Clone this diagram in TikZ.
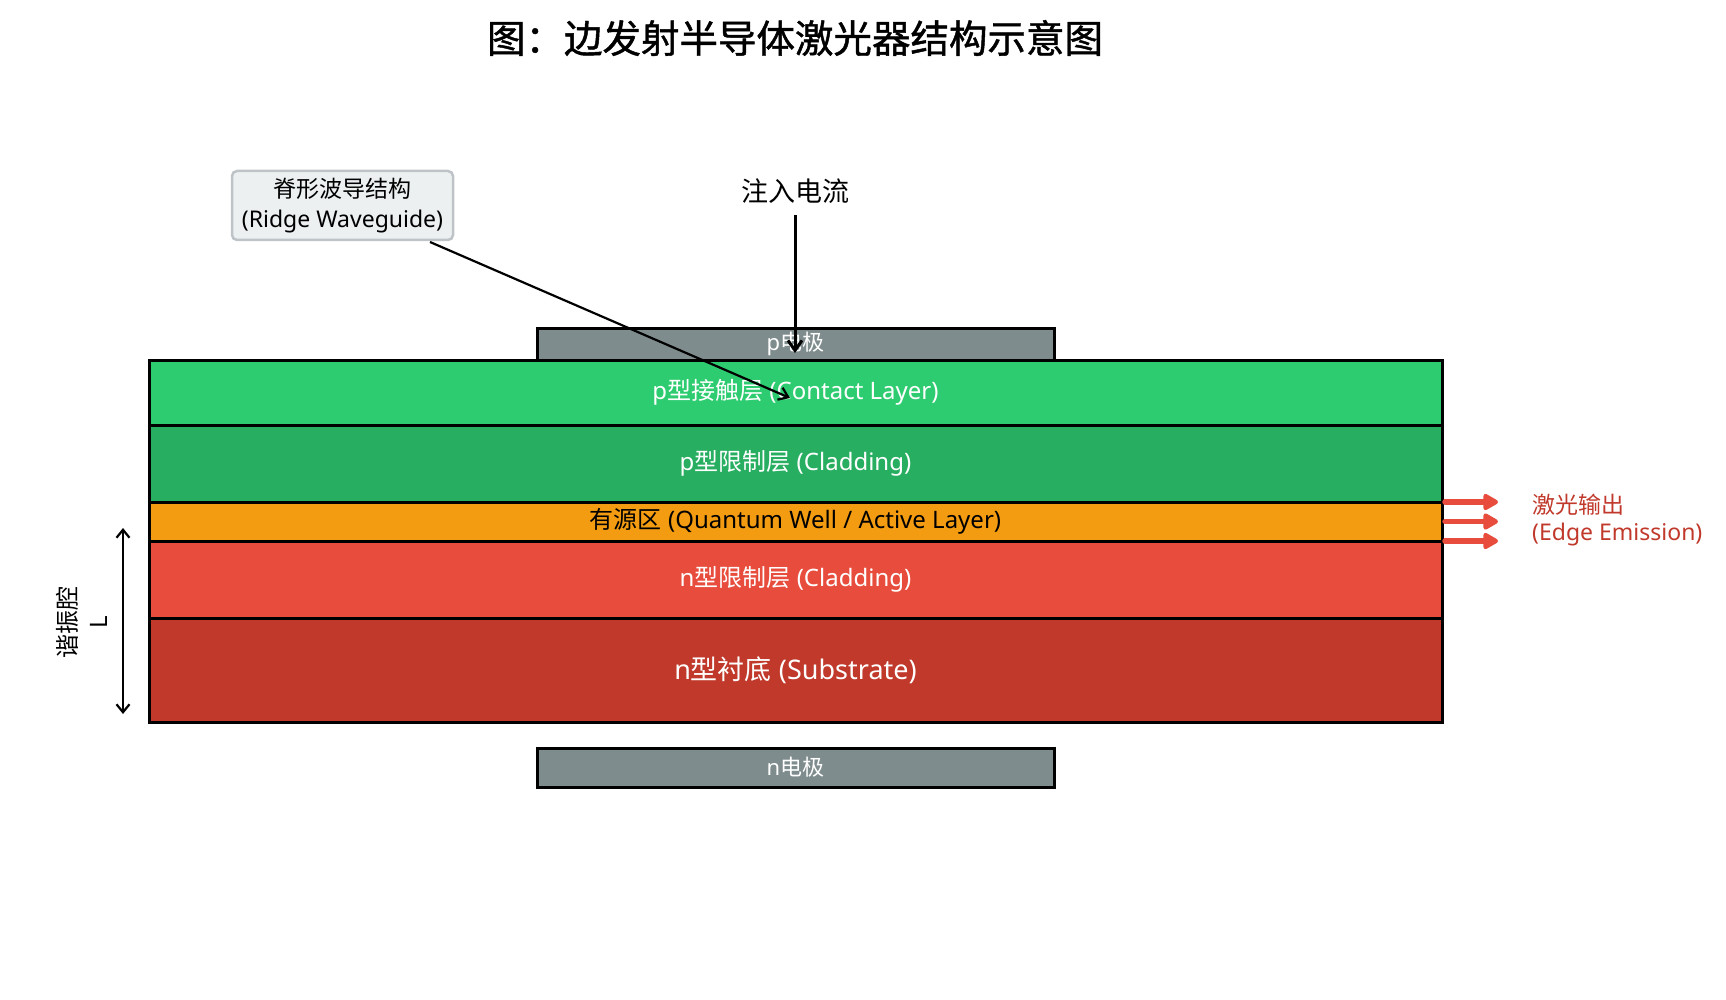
\documentclass[tikz,border=0pt]{standalone}
\usepackage{fontspec}
\setmainfont{Noto Sans}
\newfontfamily\cjk{Noto Sans CJK SC}
\newfontfamily\cjktitle{Noto Sans CJK SC}[FakeBold=1.2]
\usetikzlibrary{arrows.meta,calc}
\definecolor{cContact}{HTML}{2ECC71}
\definecolor{cPClad}{HTML}{27AE60}
\definecolor{cActive}{HTML}{F39C12}
\definecolor{cNClad}{HTML}{E74C3C}
\definecolor{cSub}{HTML}{C0392B}
\definecolor{cElec}{HTML}{7F8C8D}
\definecolor{cBoxFill}{HTML}{ECF0F1}
\definecolor{cBoxLine}{HTML}{BDC3C7}
\definecolor{cLaserTxt}{HTML}{C0392B}
\newcommand{\fs}[2]{\fontsize{#1}{#2}\selectfont}
\begin{document}
\begin{tikzpicture}[x=1pt,y=-1pt,
  layer/.style={draw=black,line width=3pt,inner sep=0pt,outer sep=0pt,minimum width=1293pt,text=white,font=\fs{24}{28}},
  elec/.style={draw=black,line width=3pt,fill=cElec,inner sep=0pt,outer sep=0pt,minimum width=517pt,text=white,font=\fs{22}{26}},
  callout/.style={draw=cBoxLine,line width=2.5pt,fill=cBoxFill,rounded corners=5pt,inner sep=0pt,minimum width=221pt,minimum height=69pt,align=center,font=\fs{23}{30}},
  ptr/.style={line width=2.2pt,-{Straight Barb[length=9pt,width=13pt,line width=2.2pt]}},
  currarrow/.style={line width=3pt,-{Straight Barb[length=10pt,width=14pt,line width=3pt]}},
  laserarrow/.style={draw=cNClad,line width=5.5pt,line cap=round,-{Triangle[length=17pt,width=18pt,round]}},
  dim/.style={line width=2.2pt,{Straight Barb[length=8pt,width=13pt,line width=2.2pt]}-{Straight Barb[length=8pt,width=13pt,line width=2.2pt]}}
]
\useasboundingbox (0,0) rectangle (1726,1000);

% title
\node[font=\cjktitle\fs{38.5}{42}] (title) at (795,38) {图：边发射半导体激光器结构示意图};

% electrodes
\node[elec,minimum height=32pt] (pelec) at (795.5,344) {p{\cjk 电极}};
\node[elec,minimum height=39pt] (nelec) at (795.5,767.5) {n{\cjk 电极}};

% layers
\node[layer,fill=cContact,minimum height=65pt] (contact) at (795.5,392.5) {p{\cjk 型接触层} (Contact Layer)};
\node[layer,fill=cPClad,minimum height=77pt] (pclad) at (795.5,463.5) {p{\cjk 型限制层} (Cladding)};
\node[layer,fill=cActive,minimum height=39pt,text=black] (active) at (795.5,521.5) {{\cjk 有源区} (Quantum Well / Active Layer)};
\node[layer,fill=cNClad,minimum height=77pt] (nclad) at (795.5,579.5) {n{\cjk 型限制层} (Cladding)};
\node[layer,fill=cSub,minimum height=104pt,font=\fs{27}{31}] (sub) at (795.5,670) {n{\cjk 型衬底} (Substrate)};

% ridge waveguide callout
\node[callout] (ridge) at (342.5,205.5) {{\cjk 脊形波导结构}\\(Ridge Waveguide)};
\coordinate (ridgefrom) at (430,242);
\coordinate (ridgetip) at (790,398);
\draw[ptr] (ridgefrom) -- (ridgetip);

% injected current
\node[font=\cjk\fs{27}{30}] (current) at (795,191) {注入电流};
\coordinate (currfrom) at (795,215);
\coordinate (currtip) at (795,353);
\draw[currarrow] (currfrom) -- (currtip);

% laser output
\draw[laserarrow] ($(active.east)+(3,-19.5)$) -- ++(53,0);
\draw[laserarrow] ($(active.east)+(3,0)$) -- ++(53,0);
\draw[laserarrow] ($(active.east)+(3,19.5)$) -- ++(53,0);
\node[anchor=west,align=left,text=cLaserTxt,font=\fs{23}{27},inner sep=0pt] (laser) at (1532,520) {{\cjk 激光输出}\\(Edge Emission)};

% cavity length
\coordinate (cavtop) at (123,528);
\coordinate (cavbot) at (123,714);
\draw[dim] (cavtop) -- (cavbot);
\node[rotate=90,align=center,font=\fs{24}{31}] (cavlabel) at (82,622) {{\cjk 谐振腔}\\L};
\end{tikzpicture}
\end{document}
